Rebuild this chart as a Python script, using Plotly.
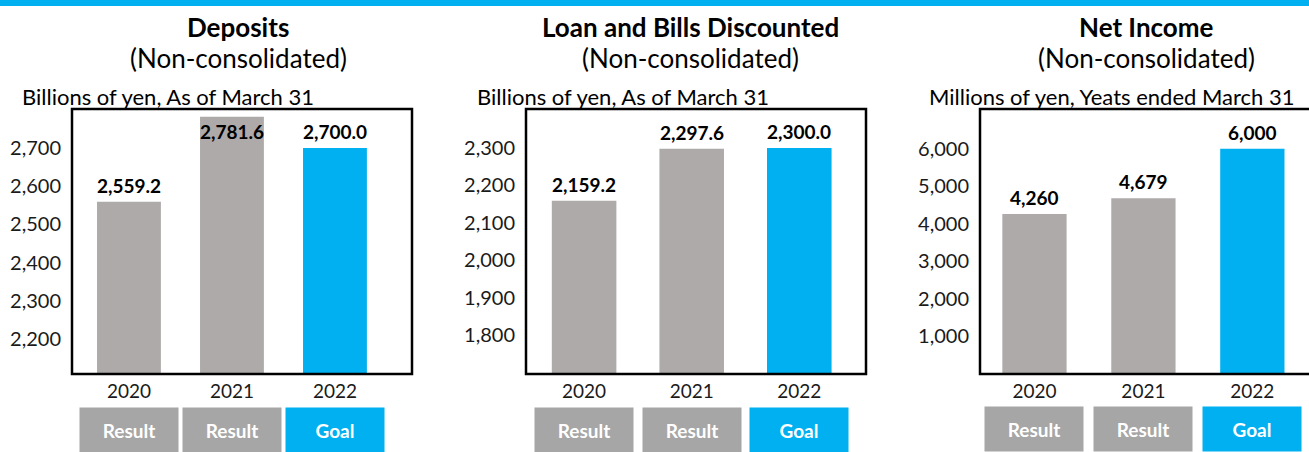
import plotly.graph_objects as go

# ---- data -------------------------------------------------------------
CATEGORIES = ["2020", "2021", "2022"]
STATUS = ["Result", "Result", "Goal"]

DEPOSITS = [2559.2, 2781.6, 2700.0]
LOANS = [2159.2, 2297.6, 2300.0]
NET_INCOME = [4260, 4679, 6000]

DEPOSIT_TICKS = [2200, 2300, 2400, 2500, 2600, 2700]
LOAN_TICKS = [1800, 1900, 2000, 2100, 2200, 2300]
INCOME_TICKS = [1000, 2000, 3000, 4000, 5000, 6000]

# ---- styling ----------------------------------------------------------
W, H = 1309, 452
FONT = "Lato"
GRAY = "#AEAAAA"
BOX_GRAY = "#A6A6A6"
BLUE = "#00B0F0"
TEXT = "#1a1a1a"


def fx(p):
    return p / W


def fy(p):
    return 1 - p / H


panels = [
    dict(title="Deposits", unit="Billions of yen, As of March 31",
         values=DEPOSITS, ticks=DEPOSIT_TICKS, fmt="{:,.1f}",
         box=(72, 412), xrange=[-0.553, 2.748], yrange=[2108, 2802],
         title_x=238, unit_x=20, bar_w=0.62, tag_y=430),
    dict(title="Loan and Bills Discounted", unit="Billions of yen, As of March 31",
         values=LOANS, ticks=LOAN_TICKS, fmt="{:,.1f}",
         box=(526, 866), xrange=[-0.54, 2.62], yrange=[1696, 2404],
         title_x=690, unit_x=475, bar_w=0.6, tag_y=430),
    dict(title="Net Income", unit="Millions of yen, Yeats ended March 31",
         values=NET_INCOME, ticks=INCOME_TICKS, fmt="{:,.0f}",
         box=(980, 1309), xrange=[-0.5, 2.52], yrange=[0, 7060],
         title_x=1146, unit_x=927, bar_w=0.59, tag_y=429),
]

PLOT_TOP, PLOT_BOTTOM = 109, 374

fig = go.Figure()
annotations = []
shapes = [
    # blue band across the top of the page
    dict(type="rect", xref="paper", yref="paper", x0=0, x1=1,
         y0=fy(6), y1=1, fillcolor=BLUE, line_width=0, layer="above"),
]

layout_axes = {}
for i, p in enumerate(panels, start=1):
    xa = "x" if i == 1 else f"x{i}"
    ya = "y" if i == 1 else f"y{i}"
    colors = [BLUE if s == "Goal" else GRAY for s in STATUS]

    fig.add_trace(go.Bar(
        x=CATEGORIES, y=p["values"], marker_color=colors, marker_line_width=0,
        width=p["bar_w"], xaxis=xa, yaxis=ya, showlegend=False,
        hoverinfo="x+y",
    ))

    x0, x1 = p["box"]
    layout_axes["xaxis" if i == 1 else f"xaxis{i}"] = dict(
        domain=[fx(x0), min(fx(x1), 1.0)], anchor=ya, type="category",
        range=p["xrange"], showgrid=False, zeroline=False, showline=False,
        ticks="", ticklabelstandoff=4,
        tickfont=dict(family=FONT, size=19, color=TEXT), fixedrange=True,
    )
    layout_axes["yaxis" if i == 1 else f"yaxis{i}"] = dict(
        domain=[fy(PLOT_BOTTOM), fy(PLOT_TOP)], anchor=xa,
        range=p["yrange"], tickvals=p["ticks"], tickformat=",",
        showgrid=False, zeroline=False, showline=False, ticks="",
        ticklabelstandoff=10,
        tickfont=dict(family=FONT, size=20, color=TEXT), fixedrange=True,
    )

    # frame around the plot area
    shapes.append(dict(type="rect", xref="paper", yref="paper",
                       x0=fx(x0), x1=fx(x1) if x1 < W else 1.02,
                       y0=fy(PLOT_BOTTOM), y1=fy(PLOT_TOP),
                       line=dict(color="black", width=2.5), fillcolor="rgba(0,0,0,0)",
                       layer="above"))

    # value labels, kept below the top tick so they stay inside the frame;
    # category axes place annotations by category index
    top_tick = p["ticks"][-1]
    for j, v in enumerate(p["values"]):
        annotations.append(dict(
            xref=xa, yref=ya, x=j, y=min(v, top_tick), yanchor="bottom",
            yshift=3, showarrow=False, text=f"<b>{p['fmt'].format(v)}</b>",
            font=dict(family=FONT, size=19, color="black"),
        ))

    # Result / Goal tags under each year
    for j, s in enumerate(STATUS):
        annotations.append(dict(
            xref=xa, yref="paper", x=j, y=fy(p["tag_y"]), yanchor="middle",
            showarrow=False, text=f"<b>{s}</b>", width=98, height=44,
            bgcolor=BLUE if s == "Goal" else BOX_GRAY, borderpad=0,
            font=dict(family=FONT, size=19, color="white"),
        ))

    # titles
    annotations.append(dict(
        xref="paper", yref="paper", x=fx(p["title_x"]), y=fy(27),
        xanchor="center", yanchor="middle", showarrow=False,
        text=f"<b>{p['title']}</b>",
        font=dict(family=FONT, size=26, color="black"),
    ))
    annotations.append(dict(
        xref="paper", yref="paper", x=fx(p["title_x"]), y=fy(58),
        xanchor="center", yanchor="middle", showarrow=False,
        text="(Non-consolidated)",
        font=dict(family=FONT, size=26, color="black"),
    ))
    annotations.append(dict(
        xref="paper", yref="paper", x=fx(p["unit_x"]), y=fy(96),
        xanchor="left", yanchor="middle", showarrow=False,
        text=p["unit"],
        font=dict(family=FONT, size=22, color="black"),
    ))

fig.update_layout(
    width=W, height=H,
    margin=dict(l=0, r=0, t=0, b=0),
    paper_bgcolor="white", plot_bgcolor="white",
    bargap=0.4,
    shapes=shapes, annotations=annotations,
    **layout_axes,
)

fig.write_html("out.html", config={"displayModeBar": False})
